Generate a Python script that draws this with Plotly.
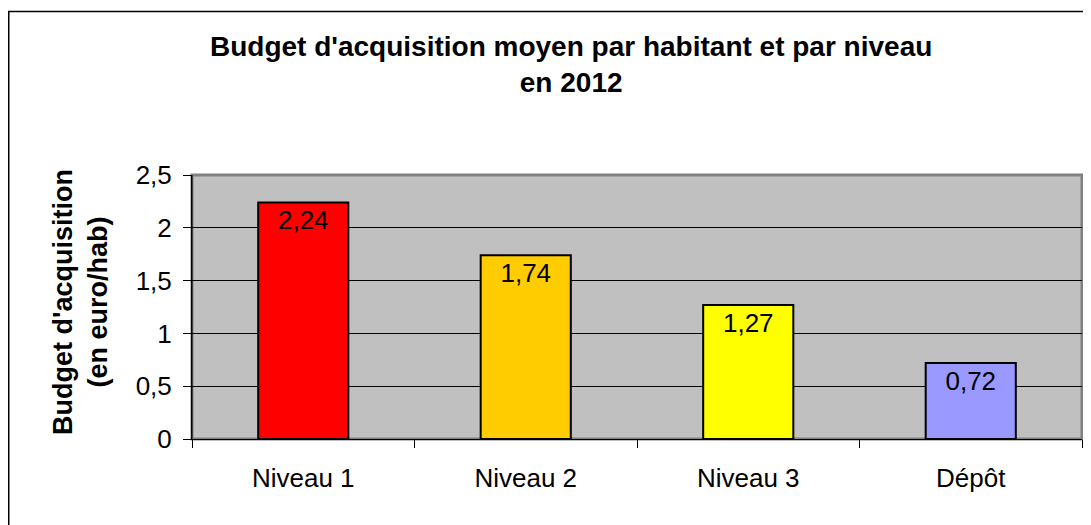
import plotly.graph_objects as go

categories = ["Niveau 1", "Niveau 2", "Niveau 3", "Dépôt"]
values = [2.24, 1.74, 1.27, 0.72]
colors = ["#FF0000", "#FFCC00", "#FFFF00", "#9999FF"]
labels = ["2,24", "1,74", "1,27", "0,72"]
tickvals = [0, 0.5, 1, 1.5, 2, 2.5]
ticktext = ["0", "0,5", "1", "1,5", "2", "2,5"]

FONT = "Liberation Sans, Arial, sans-serif"
# page has an 8px body margin, so the figure is drawn 8px smaller and shifted
W, H = 1083, 517
L, R, T, B = 184, 9, 167, 86
pw, ph = W - L - R, H - T - B

fig = go.Figure()
fig.add_trace(go.Bar(
    x=categories, y=values,
    marker=dict(color=colors, line=dict(color="black", width=2)),
    width=0.405,
    text=labels, textposition="inside", insidetextanchor="end",
    textangle=0, constraintext="none",
    textfont=dict(family=FONT, size=26, color="black"),
    hoverinfo="skip",
))

fig.update_layout(
    width=W, height=H,
    margin=dict(l=L, r=R, t=T, b=B),
    paper_bgcolor="white", plot_bgcolor="#C0C0C0",
    showlegend=False,
    font=dict(family=FONT, color="black"),
    xaxis=dict(
        showgrid=False, showline=True, linecolor="black", linewidth=1,
        ticks="outside", tickson="boundaries", ticklen=8, tickcolor="black",
        tickfont=dict(size=26, family=FONT), ticklabelstandoff=16,
    ),
    yaxis=dict(
        range=[0, 2.5], tickvals=tickvals, ticktext=ticktext,
        showgrid=True, gridcolor="black", gridwidth=1,
        showline=True, linecolor="black", linewidth=1,
        ticks="outside", ticklen=8, tickcolor="black",
        tickfont=dict(size=26, family=FONT), ticklabelstandoff=6,
        zeroline=False,
    ),
    shapes=[
        dict(type="rect", xref="paper", yref="paper", x0=0, x1=1, y0=0, y1=1,
             line=dict(color="#808080", width=3), layer="below"),
        dict(type="line", xref="paper", yref="paper", x0=0, x1=0, y0=0, y1=1,
             line=dict(color="black", width=1)),
        dict(type="rect", xref="paper", yref="paper",
             x0=(0.75 - L) / pw, x1=(1100 - L) / pw,
             y0=(T + ph - 540) / ph, y1=(T + ph - 3.5) / ph,
             line=dict(color="black", width=1.5)),
    ],
    annotations=[
        dict(text="<b>Budget d'acquisition moyen par habitant et par niveau<br>en 2012</b>",
             xref="paper", yref="paper", x=(563 - L) / pw, y=(T + ph - 21) / ph,
             xanchor="center", yanchor="top", showarrow=False,
             font=dict(size=28, family=FONT), align="center"),
        dict(text="<b>Budget d'acquisition<br>(en euro/hab)</b>",
             xref="paper", yref="paper", x=(72 - L) / pw, y=(T + ph - 294) / ph,
             xanchor="center", yanchor="middle", showarrow=False, textangle=-90,
             font=dict(size=27, family=FONT), align="center"),
    ],
)

fig.write_html("out.html")
